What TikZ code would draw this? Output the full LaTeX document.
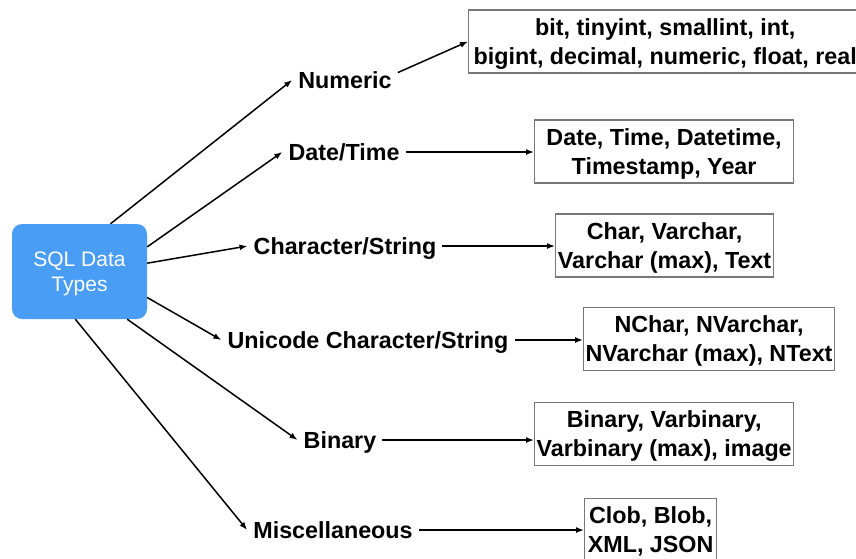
\documentclass[tikz,border=0pt]{standalone}
\usepackage{fontspec}
\setmainfont{Liberation Sans}
\usetikzlibrary{arrows.meta}
\definecolor{sqlblue}{RGB}{74,157,245}
\definecolor{boxgray}{RGB}{120,120,120}
\tikzset{
  root/.style={fill=sqlblue, rounded corners=10pt, minimum width=135pt, minimum height=95pt,
    align=center, text=white, text depth=0pt, font=\fontsize{21}{25}\selectfont},
  kind/.style={font=\bfseries\fontsize{23.3}{29}\selectfont, inner sep=6pt, text height=16.8pt, text depth=0pt},
  types/.style={draw=boxgray, line width=1.2pt, anchor=west, align=center, minimum height=63pt,
    inner xsep=2pt, text depth=0pt, font=\bfseries\fontsize{23.3}{29}\selectfont},
  conn/.style={-{Latex[length=8pt,width=6pt]}, line width=1.5pt}
}
\begin{document}
\begin{tikzpicture}[x=1pt,y=-1pt]
\useasboundingbox (0,0) rectangle (856,558);
\clip (0,0) rectangle (856,558);
\node[root] (sql) at (79.5,271.5) {SQL Data\\Types};

\node[kind] (num) at (345,80) {Numeric};
\node[kind] (dt) at (344,152) {Date/Time};
\node[kind] (chr) at (345,246) {Character/String};
\node[kind] (uni) at (368,340) {Unicode Character/String};
\node[kind] (bin) at (340,440) {Binary};
\node[kind] (misc) at (333,530) {Miscellaneous};

\node[types, inner xsep=5pt] (numt) at (468,41.5) {bit, tinyint, smallint, int,\\bigint, decimal, numeric, float, real};
\node[types, minimum width=259pt] (dtt) at (534,151.5) {Date, Time, Datetime,\\Timestamp, Year};
\node[types, minimum width=218pt] (chrt) at (555,245.5) {Char, Varchar,\\Varchar (max), Text};
\node[types, minimum width=249pt] (unit) at (583,339) {NChar, NVarchar,\\NVarchar (max), NText};
\node[types, minimum width=259pt] (bint) at (534,434) {Binary, Varbinary,\\Varbinary (max), image};
\node[types, minimum width=132pt] (misct) at (584,530) {Clob, Blob,\\XML, JSON};

\draw[conn] (sql.57) -- (num.west);
\draw[conn] (sql.20) -- (dt.west);
\draw[conn] (sql.7) -- (chr.west);
\draw[conn] (sql.-21) -- (uni.west);
\draw[conn] (sql.-45) -- (bin.west);
\draw[conn] (sql.-95) -- (misc.west);

\draw[conn] (num.8) -- (numt.west);
\draw[conn] (dt.east) -- (dt.east -| dtt.west);
\draw[conn] (chr.east) -- (chr.east -| chrt.west);
\draw[conn] (uni.east) -- (uni.east -| unit.west);
\draw[conn] (bin.east) -- (bin.east -| bint.west);
\draw[conn] (misc.east) -- (misc.east -| misct.west);
\end{tikzpicture}
\end{document}
